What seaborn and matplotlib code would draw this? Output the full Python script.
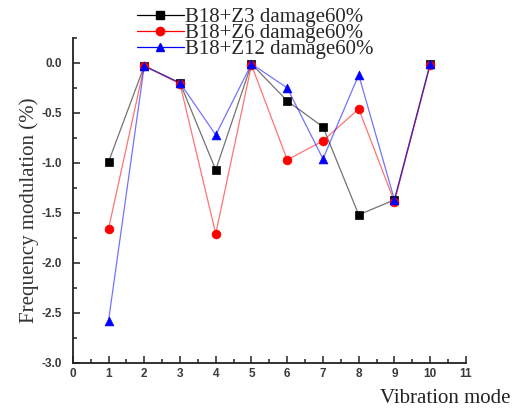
import matplotlib
matplotlib.use("Agg")
import matplotlib.pyplot as plt
from matplotlib.ticker import MultipleLocator
import pandas as pd
import seaborn as sns

modes = [1, 2, 3, 4, 5, 6, 7, 8, 9, 10]
z3 = [-0.99, -0.03, -0.20, -1.07, -0.01, -0.38, -0.64, -1.52, -1.37, -0.01]
z6 = [-1.66, -0.03, -0.21, -1.71, -0.02, -0.97, -0.78, -0.46, -1.39, -0.02]
z12 = [-2.58, -0.03, -0.20, -0.72, -0.01, -0.25, -0.96, -0.12, -1.37, -0.01]
labels = ["B18+Z3 damage60%", "B18+Z6 damage60%", "B18+Z12 damage60%"]
colors = ["#000000", "#ff0000", "#0000ff"]
markers = ["s", "o", "^"]

sns.set_style("ticks")
plt.rcParams["font.family"] = ["Liberation Sans", "DejaVu Sans"]

fig = plt.figure(figsize=(5.2, 4.08), dpi=100)
ax = fig.add_axes([0.140, 0.111, 0.756, 0.796])

for vals, lab, col, mk in zip([z3, z6, z12], labels, colors, markers):
    df = pd.DataFrame({"mode": modes, "value": vals})
    sns.lineplot(data=df, x="mode", y="value", ax=ax, color=col,
                 linewidth=0.9, alpha=0.55, label=lab, legend=False)
    sns.scatterplot(data=df, x="mode", y="value", ax=ax, color=col,
                    marker=mk, s=40, edgecolor=col, linewidth=0.5,
                    zorder=4, legend=False)

ax.set_xlim(0, 11)
ax.set_ylim(-3.0, 0.25)
ax.xaxis.set_major_locator(MultipleLocator(1))
ax.xaxis.set_minor_locator(MultipleLocator(0.5))
ax.yaxis.set_minor_locator(MultipleLocator(0.25))
ax.set_yticks([-3.0, -2.5, -2.0, -1.5, -1.0, -0.5, 0.0])
ax.set_yticklabels(["-3.0", "-2.5", "-2.0", "-1.5", "-1.0", "-0.5", "0.0"])
ax.set_ylim(-3.0, 0.25)
ax.tick_params(which="both", direction="in", color="#222222", width=1.1)
ax.tick_params(which="major", length=5)
ax.tick_params(which="minor", length=3)
ax.tick_params(axis="y", pad=8)
ax.tick_params(axis="x", pad=4)
for t in ax.get_xticklabels() + ax.get_yticklabels():
    t.set_fontsize(8.5)
    t.set_fontweight("bold")
    t.set_color("#3a3a3a")

sns.despine(ax=ax)
for side in ["left", "bottom"]:
    ax.spines[side].set_linewidth(1.3)
    ax.spines[side].set_color("#222222")

ax.set_xlabel("")
ax.set_ylabel("Frequency modulation (%)", family="Liberation Serif",
              fontsize=15, color="#333333")
ax.yaxis.set_label_coords(-0.086, 0.468)
fig.text(0.982, 0.0, "Vibration mode", family="Liberation Serif",
         fontsize=15, color="#222222", ha="right", va="bottom")

handles = [plt.Line2D([], [], color=c, marker=m, markersize=6, linewidth=0.9)
           for c, m in zip(colors, markers)]
fig.legend(handles, labels, loc="upper left", bbox_to_anchor=(0.235, 1.017),
           frameon=False, prop={"family": "Liberation Serif", "size": 15},
           labelspacing=-0.17, handlelength=2.25, handletextpad=0.05,
           borderpad=0.2)

fig.savefig("out.png", dpi=100)
